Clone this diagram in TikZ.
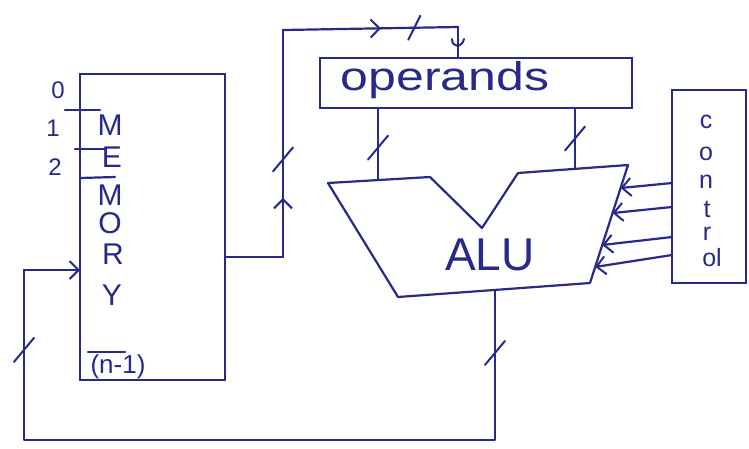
\documentclass[tikz,border=0pt]{standalone}
\usepackage{fontspec}
\setmainfont{Liberation Sans}
\usetikzlibrary{arrows.meta,decorations.markings,calc}
\definecolor{ink}{RGB}{40,42,138}

\begin{document}
\begin{tikzpicture}[x=1pt,y=-1pt,
  box/.style={draw=ink, line width=2.2pt, inner sep=0pt, outer sep=0pt},
  wire/.style={draw=ink, line width=2.2pt, line join=round, line cap=round},
  barb/.style={-{Straight Barb[length=9pt,width=18pt,line width=2pt]}},
  slash/.style={draw=ink, line width=2pt, line cap=round},
  lbl/.style={text=ink, inner sep=0pt},
  midbarb/.style={postaction={decorate}, decoration={markings,
      mark=at position #1 with {\arrow{Straight Barb[length=9pt,width=18pt,line width=2pt]}}}},
  busmark/.pic={\draw[slash] (-10,12) -- (10,-12);},
  steepmark/.pic={\draw[slash] (-6,12) -- (6,-12);}]

\fill[white] (0,0) rectangle (749,448);
\useasboundingbox (0,0) rectangle (749,448);

% ---------- memory ----------
\node[box, minimum width=145pt, minimum height=306pt] (memory) at (152.5,227) {};
\node[lbl, font=\fontsize{24}{24}\selectfont] (a0) at (58,90) {0};
\node[lbl, font=\fontsize{24}{24}\selectfont] (a1) at (53,128) {1};
\node[lbl, font=\fontsize{24}{24}\selectfont] (a2) at (55,167) {2};
\draw[wire] (65,110) -- (100,110);
\draw[wire] (75,149) -- (105,149);
\draw[wire] (80,178) -- (115,177);
\draw[wire] (88,352) -- (125,352);
\foreach \ch/\yy/\xx [count=\i] in {M/125/110, E/157/112, M/195/110, O/223/110, R/254/113, Y/295/112}
  \node[lbl, font=\fontsize{30}{30}\selectfont] (m\i) at (\xx,\yy) {\ch};
\node[lbl, font=\fontsize{26}{26}\selectfont] (mlast) at (118,367) {(n-1)};

% ---------- operands ----------
\node[box, minimum width=312pt, minimum height=50pt] (operands) at (476,83) {};
\node[lbl, font=\fontsize{40}{40}\selectfont, xscale=1.25, transform shape] (optext) at (445,80) {operands};

% ---------- ALU ----------
\coordinate (A1) at (328,183);
\coordinate (A2) at (430,177);
\coordinate (A3) at (482,228);
\coordinate (A4) at (518,173);
\coordinate (A5) at (628,165);
\coordinate (A6) at (590,283);
\coordinate (A7) at (398,297);
\draw[wire] (A1) -- (A2) -- (A3) -- (A4) -- (A5) -- (A6) -- (A7) -- cycle;
\node[lbl, font=\fontsize{46}{46}\selectfont] (alu) at (490,255) {ALU};

% ---------- control ----------
\node[box, minimum width=74pt, minimum height=193pt] (control) at (709,186.5) {};
\foreach \ch/\yy/\xx [count=\i] in {c/122/706, o/154/706, n/182/706, t/210/707, r/234/707, ol/258/712}
  \node[lbl, font=\fontsize{25}{25}\selectfont] (c\i) at (\xx,\yy) {\ch};

% control lines into the ALU
\coordinate (k1) at (0,183);
\coordinate (k2) at (0,207);
\coordinate (k3) at (0,237);
\coordinate (k4) at (0,255);
\draw[wire, barb] (control.west |- k1) -- ($(A5)!0.195!(A6)$);
\draw[wire, barb] (control.west |- k2) -- ($(A5)!0.407!(A6)$);
\draw[wire, barb] (control.west |- k3) -- ($(A5)!0.678!(A6)$);
\draw[wire, barb] (control.west |- k4) -- ($(A5)!0.864!(A6)$);

% ---------- operands -> ALU ----------
\coordinate (inL) at (378,180);
\coordinate (inR) at (575,169);
\draw[wire] (operands.south -| inL) -- (inL);
\draw[wire] (operands.south -| inR) -- (inR);
\pic at ($(operands.south -| inL)!0.55!(inL)$) {busmark};
\pic at ($(operands.south -| inR)!0.5!(inR)$) {busmark};

% ---------- memory -> operands ----------
\coordinate (up1) at (283,257);
\coordinate (up2) at (283,30);
\coordinate (up3) at (458,27);
\draw[wire] (memory.east |- up1) -- (up1);
\draw[wire, midbarb=0.26] (up1) -- (up2);
\draw[wire, midbarb=0.56] (up2) -- (up3);
\draw[wire] (up3) -- (operands.north -| up3);
\pic at ($(up1)!0.43!(up2)$) {busmark};
\pic at ($(up2)!0.75!(up3)$) {steepmark};
\draw[slash] ($(up3)+(-6,12)$) .. controls ($(up3)+(-6,21)$) and ($(up3)+(4,21)$) .. ($(up3)+(6,12)$);

% ---------- ALU -> memory ----------
\coordinate (out) at ($(A7)!0.505!(A6)$);
\coordinate (br) at (496,440);
\coordinate (bl) at (24,440);
\coordinate (tl) at (24,270);
\draw[wire] (out) -- (out |- br) -- (bl) -- (tl);
\draw[wire, barb] (tl) -- (memory.west |- tl);
\pic at ($(out)!0.42!(out |- br)$) {busmark};
\pic at ($(bl)!0.53!(tl)$) {busmark};

\end{tikzpicture}
\end{document}
